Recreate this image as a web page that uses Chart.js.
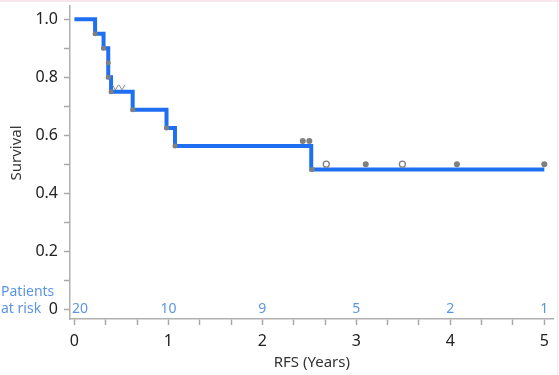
<!DOCTYPE html>
<html>
<head>
<meta charset="utf-8">
<script src="https://cdn.jsdelivr.net/npm/chart.js@4.4.1/dist/chart.umd.min.js"></script>
<style>
  html, body { margin: 0; padding: 0; background: #fff; }
</style>
</head>
<body>
<canvas id="km" width="559" height="375"></canvas>
<script>
// Kaplan-Meier step curve (time in years, survival after the event)
const kmTimes = [0, 0.22, 0.31, 0.36, 0.39, 0.62, 0.98, 1.07, 2.52, 5.0];
const kmSurv  = [1.0, 0.95, 0.90, 0.80, 0.75, 0.6875, 0.625, 0.5625, 0.482, 0.482];

// grey event dots on the curve
const eventTimes = [0.22, 0.31, 0.36, 0.36, 0.39, 0.62, 0.98, 1.07, 2.53];
const eventSurv  = [0.95, 0.90, 0.85, 0.80, 0.75, 0.6875, 0.625, 0.5625, 0.482];

// censor marks
const censFilledTimes = [2.43, 2.50, 3.10, 4.07, 5.0];
const censFilledSurv  = [0.58, 0.58, 0.50, 0.50, 0.50];
const censOpenTimes = [2.68, 3.49];
const censOpenSurv  = [0.50, 0.50];
const censZigTimes = [0.42, 0.452, 0.49, 0.522];
const censZigSurv  = [0.765, 0.765, 0.765, 0.765];

// patients at risk
const riskTimes  = [0, 1, 2, 3, 4, 5];
const riskCounts = [20, 10, 9, 5, 2, 1];

// axes
const xTickLabels = ['0', '1', '2', '3', '4', '5'];
const yTickLabels = ['0', '0.2', '0.4', '0.6', '0.8', '1.0'];

const xTicks = [];
for (let i = 0; i <= 15; i++) xTicks.push(i / 3);
const yTicks = [];
for (let i = 0; i <= 10; i++) yTicks.push(i / 10);

const pts = (xs, ys) => xs.map((x, i) => ({ x: x, y: ys[i] }));

const riskPlugin = {
  id: 'riskTable',
  afterDraw(chart) {
    const ctx = chart.ctx;
    const xs = chart.scales.x, ys = chart.scales.y;
    const y0 = ys.getPixelForValue(0);
    ctx.save();
    ctx.font = '14px "Noto Sans", sans-serif';
    ctx.fillStyle = '#5b95e3';
    ctx.textBaseline = 'middle';
    ctx.textAlign = 'left';
    ctx.fillText('Patients', 1, y0 - 17);
    ctx.fillText('at risk', 1, y0);
    riskTimes.forEach((t, i) => {
      const label = String(riskCounts[i]);
      const px = xs.getPixelForValue(t);
      const w = ctx.measureText(label).width;
      let left = px - w / 2;
      if (left < chart.chartArea.left + 2) left = chart.chartArea.left + 2;
      ctx.fillText(label, left, y0);
    });
    // y title, sits a little above the middle in the original
    ctx.font = '15px "Noto Sans", sans-serif';
    ctx.fillStyle = '#333';
    ctx.textAlign = 'center';
    ctx.translate(17, 153);
    ctx.rotate(-Math.PI / 2);
    ctx.fillText('Survival', 0, 0);
    ctx.setTransform(1, 0, 0, 1, 0, 0);
    // frame bits
    ctx.strokeStyle = '#ececec';
    ctx.lineWidth = 1;
    ctx.beginPath();
    ctx.moveTo(557.5, 0);
    ctx.lineTo(557.5, chart.height);
    ctx.stroke();
    ctx.strokeStyle = '#fbe6ee';
    ctx.lineWidth = 2;
    ctx.beginPath();
    ctx.moveTo(0, 1);
    ctx.lineTo(chart.width, 1);
    ctx.stroke();
    ctx.restore();
  }
};

new Chart(document.getElementById('km'), {
  type: 'scatter',
  data: {
    datasets: [
      {
        data: pts(kmTimes, kmSurv),
        showLine: true,
        stepped: 'before',
        borderColor: '#1f6ff2',
        borderWidth: 4,
        pointRadius: 0,
        fill: false,
        order: 2
      },
      {
        data: pts(eventTimes, eventSurv),
        pointRadius: 2.5,
        pointBackgroundColor: '#808080',
        pointBorderColor: '#808080',
        pointBorderWidth: 0,
        order: 1
      },
      {
        data: pts(censFilledTimes, censFilledSurv),
        pointRadius: 3,
        pointBackgroundColor: '#7f7f7f',
        pointBorderColor: '#7f7f7f',
        pointBorderWidth: 0,
        order: 0
      },
      {
        data: pts(censOpenTimes, censOpenSurv),
        pointRadius: 3,
        pointBackgroundColor: '#ffffff',
        pointBorderColor: '#7f7f7f',
        pointBorderWidth: 1.3,
        order: 0
      },
      {
        data: pts(censZigTimes, censZigSurv),
        pointStyle: 'line',
        pointRadius: 3,
        pointRotation: (c) => (c.dataIndex % 2 === 0 ? 60 : -60),
        pointBorderColor: '#8a8a8a',
        pointBorderWidth: 1,
        order: 0
      }
    ]
  },
  options: {
    responsive: false,
    animation: false,
    layout: { padding: { top: 3, right: 4, left: 0, bottom: 0 } },
    plugins: { legend: { display: false }, tooltip: { enabled: false } },
    scales: {
      x: {
        type: 'linear',
        min: -0.047,
        max: 5.1,
        afterBuildTicks: (s) => { s.ticks = xTicks.map(v => ({ value: v })); },
        afterFit: (s) => { s.height = 56; s.paddingRight = 0; s.paddingLeft = 0; },
        border: { color: '#b0b0b0', width: 1.5 },
        grid: { drawOnChartArea: false, drawTicks: true, tickLength: 6, tickColor: '#a8a8a8', tickWidth: 1.5 },
        ticks: {
          autoSkip: false,
          maxRotation: 0,
          padding: 7,
          color: '#222',
          font: { family: '"Noto Sans", sans-serif', size: 16 },
          callback: (v) => {
            const i = Math.round(v);
            return Math.abs(v - i) < 1e-6 ? xTickLabels[i] : '';
          }
        },
        title: {
          display: true,
          text: 'RFS (Years)',
          color: '#333',
          padding: { top: 0, bottom: 3 },
          font: { family: '"Noto Sans", sans-serif', size: 15 }
        }
      },
      y: {
        type: 'linear',
        min: -0.034,
        max: 1.048,
        afterBuildTicks: (s) => { s.ticks = yTicks.map(v => ({ value: v })); },
        afterFit: (s) => { s.width = 70; s.paddingTop = 0; s.paddingBottom = 0; },
        border: { color: '#b0b0b0', width: 1.5 },
        grid: { drawOnChartArea: false, drawTicks: true, tickLength: 6, tickColor: '#a8a8a8', tickWidth: 1.5 },
        ticks: {
          autoSkip: false,
          padding: 6,
          color: '#222',
          font: { family: '"Noto Sans", sans-serif', size: 16 },
          callback: (v) => {
            const i = Math.round(v * 10);
            return (Math.abs(v * 10 - i) < 1e-6 && i % 2 === 0) ? yTickLabels[i / 2] : '';
          }
        }
      }
    }
  },
  plugins: [riskPlugin]
});
</script>
</body>
</html>
